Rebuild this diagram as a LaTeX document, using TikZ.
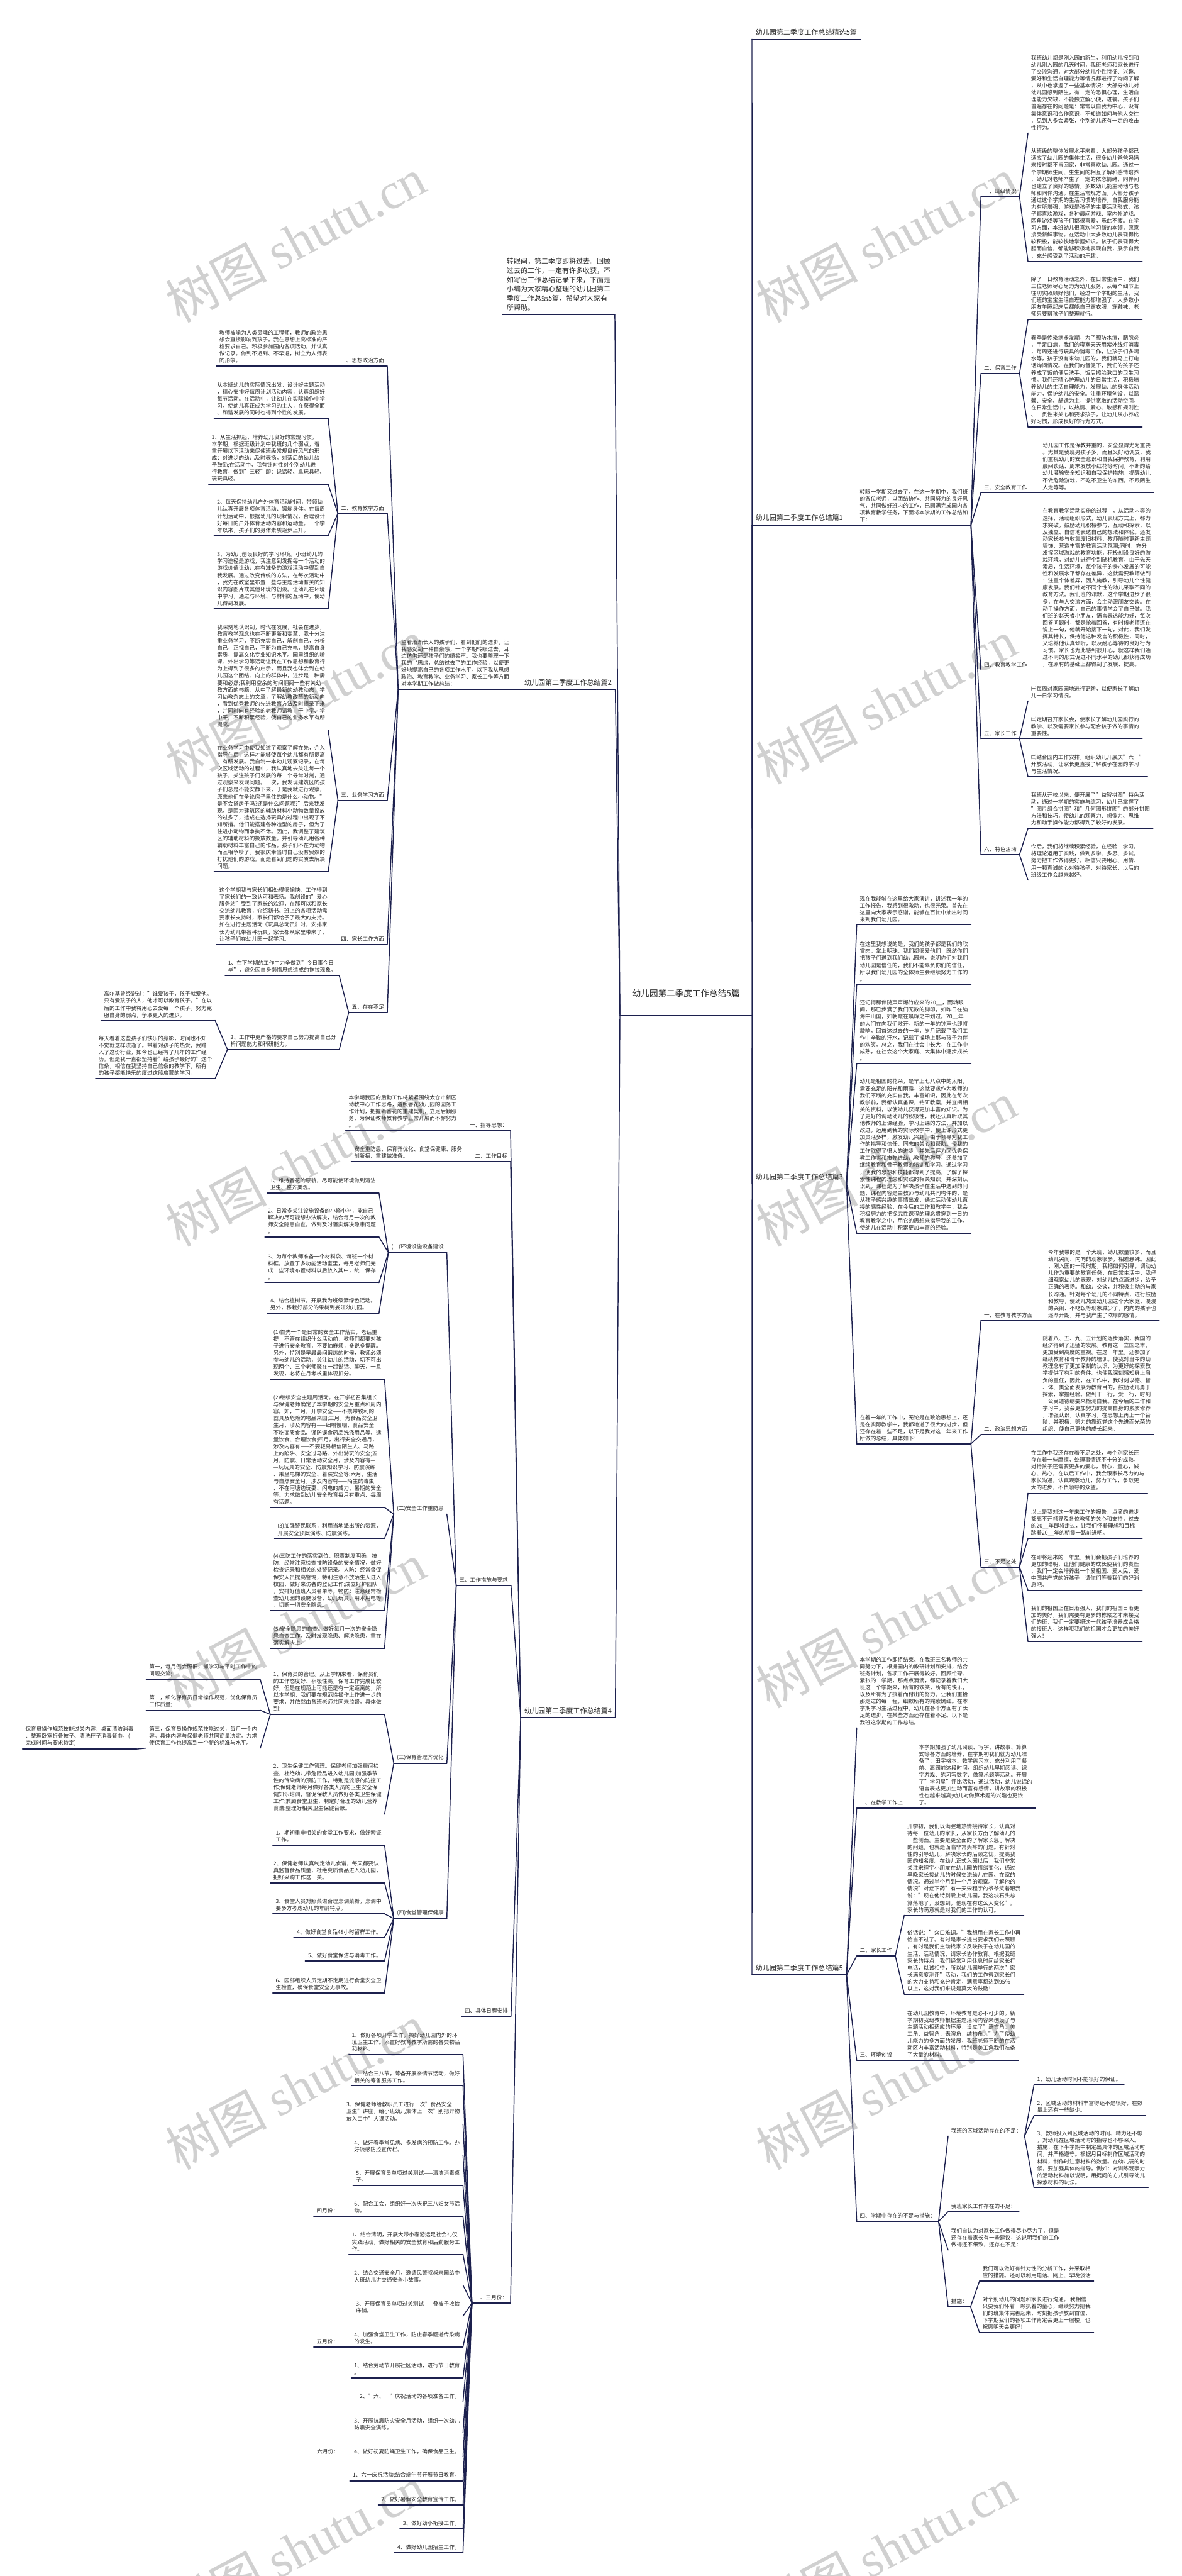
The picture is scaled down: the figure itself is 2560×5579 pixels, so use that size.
\documentclass[tikz,border=0pt]{standalone}
\usepackage{fontspec}
\setmainfont{Noto Sans CJK SC}
\newfontfamily\wmlat{Liberation Serif}
\definecolor{lc}{RGB}{28,32,78}
\definecolor{tc}{RGB}{38,38,38}
\definecolor{wmc}{RGB}{208,208,208}
\newcommand\fBody{\fontsize{11.7pt}{15.1pt}\selectfont}
\newcommand\fTitle{\fontsize{15.1pt}{19pt}\selectfont}
\newcommand\fIntro{\fontsize{15pt}{20pt}\selectfont}
\newcommand\fRoot{\fontsize{18.5pt}{22pt}\selectfont}
\newcommand\fWm{\fontsize{110pt}{120pt}\selectfont}
\newcommand\conR[2]{\foreach \c in {#2}{\draw[lnk] (#1.south east) -- (\c.south west);}}
\newcommand\conL[2]{\foreach \c in {#2}{\draw[lnk] (#1.south west) -- (\c.south east);}}
\tikzset{
 lnk/.style={draw=lc,line width=2pt,line cap=round},
 ul/.style={append after command={(\tikzlastnode.south west) edge[lnk] (\tikzlastnode.south east)}},
 tx/.style={font=\fBody,text=tc,align=left,inner xsep=6.5pt,inner ysep=6pt,ul},
 ttl/.style={font=\fTitle,text=tc,inner xsep=7.5pt,inner ysep=8pt,ul},
 R/.style={anchor=south west},
 L/.style={anchor=south east},
 wm/.style={font=\fWm,text=wmc,rotate=28,inner sep=0pt},
}
\begin{document}
\begin{tikzpicture}[x=1pt,y=-1pt]
\fill[white] (0,0) rectangle (2560,5579);
\useasboundingbox (0,0) rectangle (2560,5579);
% watermarks
\foreach \y in {520,1520,2520,3520,4520,5520}{
 \node[wm] (wmL\y) at (640,\y) {树图 {\wmlat shutu.cn}};
 \node[wm] (wmR\y) at (1920,\y) {树图 {\wmlat shutu.cn}};
}
% root
\node[R,font=\fRoot,text=tc,minimum width=286pt,inner xsep=0pt,inner ysep=4pt,text depth=38pt,ul] (root) at (1343,2200) {幼儿园第二季度工作总结5篇};

% ================= RIGHT =================
\node[R,ttl] (r0) at (1629,85) {幼儿园第二季度工作总结精选5篇};
\node[R,ttl] (r1) at (1629,1137) {幼儿园第二季度工作总结篇1};
\node[R,tx] (r1t) at (1856,1137) {转眼一学期又过去了，在这一学期中，我们班\\的各位老师，以团结协作、共同努力的良好风\\气，共同做好班内的工作，已圆满完成园内各\\项教育教学任务，下面将本学期的工作总结如\\下：};
\node[R,tx] (a1) at (2125,426) {一、班级情况};
\node[R,tx] (a1t1) at (2227,288) {我班幼儿都是刚入园的新生，利用幼儿报到和\\幼儿刚入园的几天时间，我班老师和家长进行\\了交流沟通，对大部分幼儿个性特征、兴趣、\\爱好和生活自理能力等情况都进行了询问了解\\，从中也掌握了一些基本情况：大部分幼儿对\\幼儿园感到陌生，有一定的恐惧心理，生活自\\理能力欠缺，不能独立解小便，进餐。孩子们\\普遍存在的问题是：常常以自我为中心，没有\\集体意识和合作意识，不知道如何与他人交往\\，见到人多会紧张，个别幼儿还有一定的攻击\\性行为。};
\node[R,tx] (a1t2) at (2227,566) {从班级的整体发展水平来看，大部分孩子都已\\适应了幼儿园的集体生活，很多幼儿爸爸妈妈\\来接时都不肯回家，非常喜欢幼儿园。通过一\\个学期师生间、生生间的相互了解和感情培养\\，幼儿对老师产生了一定的依恋情绪，同伴间\\也建立了良好的感情，多数幼儿能主动地与老\\师和同伴沟通。在生活常规方面，大部分孩子\\通过这个学期的生活习惯的培养，自我服务能\\力有所增强，游戏是孩子的主要活动形式，孩\\子都喜欢游戏，各种晨间游戏、室内外游戏、\\区角游戏等孩子们都很喜爱，乐此不疲。在学\\习方面，本班幼儿很喜欢学习新的本领，愿意\\接受新鲜事物。在活动中大多数幼儿表现得比\\较积极，能较快地掌握知识。孩子们表现得大\\胆而自信，都能够积极地表现自我，展示自我\\，充分感受到了活动的乐趣。};
\node[R,tx] (a2) at (2125,809) {二、保育工作};
\node[R,tx] (a2t1) at (2227,692) {除了一日教育活动之外，在日常生活中，我们\\三位老师尽心尽力为幼儿服务，从每个细节上\\往切实照顾好他们，经过一个学期的生活，我\\们班的宝宝生活自理能力都增强了，大多数小\\朋友午睡起床后都能自己穿衣服，穿鞋袜，老\\师只要帮孩子们整理就行。};
\node[R,tx] (a2t2) at (2227,925) {春季是传染病多发期，为了预防水痘，腮腺炎\\，手足口病，我们的寝室天天用紫外线灯消毒\\，每周还进行玩具的消毒工作，让孩子们多喝\\水等，孩子没有来幼儿园的，我们就马上打电\\话询问情况。在我们的督促下，我们的孩子还\\养成了饭前便后洗手、饭后擦脸漱口的卫生习\\惯。我们还精心护理幼儿的日常生活，积极培\\养幼儿的生活自理能力，发展幼儿的身体活动\\能力，保护幼儿的安全。注重环境创设，以温\\馨、安全、舒适为主，提供宽敞的活动空间，\\在日常生活中，以热情、爱心、敏感和规则性\\、一贯性来关心和要求孩子，让幼儿从小养成\\好习惯，形成良好的行为方式。};
\node[R,tx] (a3) at (2125,1067) {三、安全教育工作};
\node[R,tx] (a3t) at (2252,1067) {幼儿园工作是保教并重的，安全显得尤为重要\\。尤其是我班男孩子多，而且又好动调皮，我\\们重视幼儿的安全意识和自我保护教育，利用\\晨间谈话、周末发放小红花等时间，不断的给\\幼儿灌输安全知识和自我保护措施，提醒幼儿\\不做危险游戏，不吃不卫生的东西，不跟陌生\\人走等等。};
\node[R,tx] (a4) at (2125,1451) {四、教育教学工作};
\node[R,tx] (a4t) at (2252,1451) {在教育教学活动实施的过程中，从活动内容的\\选择，活动组织形式，幼儿表现方式上，都力\\求突破，鼓励幼儿积极参与、互动和探索，以\\及独立、自信地表达自己的想法和体验。还发\\动家长参与收集废旧材料，教师随时更新主题\\墙饰，营造丰富的教育活动氛围;同时，充分\\发挥区域游戏的教育功能，积极创设良好的游\\戏环境，对幼儿进行个别随机教育，由于先天\\素质，生活环境，每个孩子的身心发展的可能\\性和发展水平都存在差异，这就需要教师做到\\：注重个体差异，因人施教，引导幼儿个性健\\康发展。我们针对不同个性的幼儿采取不同的\\教育方法。我们班的邓默，这个学期进步了很\\多，在与人交流方面，会主动跟朋友交谈。在\\动手操作方面，自己的事情学会了自己做。我\\们班的赵天睿小朋友，语言表达能力好，每次\\回答问题时，都是抢着回答，有时候老师还在\\说上一句，他就开始接下一句，对此，我们发\\挥其特长，保持他这种发言的积极性，同时，\\又培养他认真倾听，以及耐心等待的良好行为\\习惯。家长也为此感到很开心，就这样我们通\\过不同的形式促进不同水平的幼儿都获得成功\\，在原有的基础上都得到了发展、提高。};
\node[R,tx] (a5) at (2125,1600) {五、家长工作};
\node[R,tx] (a5t1) at (2227,1518) {㈠每周对家园园地进行更新，以便家长了解幼\\儿一日学习情况。};
\node[R,tx] (a5t2) at (2227,1600) {㈡定期召开家长会，使家长了解幼儿园实行的\\教学、以及需要家长参与配合孩子做的事情的\\重要性。};
\node[R,tx] (a5t3) at (2227,1682) {㈢结合园内工作安排，组织幼儿开展庆"六一"\\开放活动，让家长更直接了解孩子在园的学习\\与生活情况。};
\node[R,tx] (a6) at (2125,1851) {六、特色活动};
\node[R,tx] (a6t1) at (2227,1794) {我班从开校以来，便开展了"益智拼图"特色活\\动，通过一学期的实施与练习，幼儿已掌握了\\"图片组合拼图"和"几何图形拼图"的部分拼图\\方法和技巧，使幼儿的观察力、想像力、思维\\力和动手操作能力都得到了较好的发展。};
\node[R,tx] (a6t2) at (2227,1906) {今后，我们将继续积累经验，在经验中学习，\\将理论运用于实践，做到多学、多思、多试，\\努力把工作做得更好。相信只要用心、用情、\\用一颗真诚的心对待孩子、对待家长，以后的\\班级工作会越来越好。};

\node[R,ttl] (r3) at (1629,2564) {幼儿园第二季度工作总结篇3};
\node[R,tx] (b1) at (1856,2003) {现在我能够在这里给大家演讲，讲述我一年的\\工作报告，我感到很激动，也很光荣。首先在\\这里向大家表示感谢，能够在百忙中抽出时间\\来到我们幼儿园。};
\node[R,tx] (b2) at (1856,2132) {在这里我想说的是，我们的孩子都是我们的欣\\赏肉，掌上明珠，我们都很爱他们，既然你们\\把孩子们送到我们幼儿园来，说明你们对我们\\幼儿园是信任的，我们不能辜负你们的信任，\\所以我们幼儿园的全体师生会继续努力工作的\\。};
\node[R,tx] (b3) at (1856,2304) {还记得那伴随声声爆竹应来的20\_\_，而转眼\\间，那已步满了我们无数的脚印，如昨日在脑\\海中山国，如朝霞在晨辉之中划过。20\_\_年\\的大门在向我们敞开。新的一年的钟声也即将\\敲响，回首这过去的一年，岁月记载了我们工\\作中辛勤的汗水，记载了操场上那与孩子为伴\\的欢笑。总之，我们在社会中长大，在工作中\\成熟，在社会这个大家庭、大集体中逐步成长\\。};
\node[R,tx] (b4) at (1856,2671) {幼儿是祖国的花朵，是早上七八点中的太阳，\\需要充足的阳光和雨露，这就要求作为教师的\\我们不断的充实自我，丰富知识，因此在每次\\教学前，我都认真备课，钻研教案，并查阅相\\关的资料，以使幼儿获得更加丰富的知识。为\\了更好的调动幼儿的积极性，我还认真听取其\\他教师的上课经验，学习上课的方法，并加以\\改进，运用到我的实际教学中，使上课形式更\\加灵活多样，激发幼儿兴趣，由于领导对我工\\作的指导和信任，同志的关心和帮助。使我的\\工作取得了很大的进步，并先后评为区优秀保\\教工作者和市先进幼儿教师的称号，还参加了\\继续教育和骨干教师的培训和学习。通过学习\\，使我的思想和技能都得到了提高，了解了探\\索性课程的理念和实践的相关知识，并深刻认\\识到，课程是为了解决孩子在生活中遇到的问\\题，课程内容是由教师与幼儿共同构件的，是\\从孩子感兴趣的事情出发，通过活动使幼儿直\\接的感性经验，在今后的工作和教学中，我会\\积极努力的把探究性课程的理念贯穿到一日的\\教育教学之中，用它的思想来指导我的工作，\\使幼儿在活动中积累更加丰富的经验。};
\node[R,tx] (b5) at (1856,3127) {在着一年的工作中，无论是在政治思想上，还\\是在实际教学中，我都地道了很大的进步，但\\还存在着一些不足，以下是我对这一年来工作\\所做的总结，具体如下：};
\node[R,tx] (c1) at (2125,2860) {一、在教育教学方面};
\node[R,tx] (c1t) at (2264,2860) {今年我带的是一个大班，幼儿数量较多，而且\\幼儿哭闹、内向的观象很多，相差悬殊。因此\\，刚入园的一段时期，我把如何引导，调动幼\\儿作为重要的教育任务，在日常生活中，我仔\\细观察幼儿的表现，对幼儿的点滴进步，给予\\正确的表扬。和幼儿交谈，并积极主动的与家\\长沟通。针对每个幼儿的不同特点，进行鼓励\\和教导，使幼儿热爱幼儿园这个大家庭，漫漫\\的哭闹、不吃饭等现象减少了，内向的孩子也\\逐渐开朗，并与我产生了浓厚的感情。};
\node[R,tx] (c2) at (2125,3107) {二、政治思想方面};
\node[R,tx] (c2t) at (2252,3107) {随着八、五、九、五计划的逐步落实，我国的\\经济得到了迅猛的发展。教育这一立国之本，\\更加受到高度的重视。在这一年里，还参加了\\继续教育和骨干教师的培训。使我对当今的幼\\教理念有了更加深刻的认识，为更好的探索教\\学提供了有利的条件。也使我深刻感知身上肩\\负的重任，因此，在工作中，我时刻以德、智\\、体、美全面发展为教育目的，鼓励幼儿勇于\\探索，掌握经验。做到干一行，爱一行，时刻\\一公民道德纲要来检测自我。在今后的工作和\\学习中，我会更加努力的提高自身的素质修养\\，增强认识，认真学习，在思想上再上一个台\\阶，并积极、努力的靠近党这个先进而光荣的\\组织，使自己更快的成长起来。};
\node[R,tx] (c3) at (2125,3394) {三、不足之处};
\node[R,tx] (c3t1) at (2227,3234) {在工作中我还存在着不足之处，与个别家长还\\存在着一些摩擦，处理事情还不十分的成熟，\\对待孩子还需要更多的爱心，耐心，童心，诚\\心、热心，在以后工作中，我会跟家长尽力的与\\家长沟通，认真观察幼儿，努力工作，争取更\\大的进步，不负领导的众望。};
\node[R,tx] (c3t2) at (2227,3332) {以上是我对这一年来工作的报告，点滴的进步\\都离不开领导及各位教师的关心和支持，过去\\的20\_\_年即将走过，让我们怀着理想和目标\\踏着20\_\_年的朝霞一路前进吧。};
\node[R,tx] (c3t3) at (2227,3444) {在即将迎来的一年里，我们会把孩子们培养的\\更加的聪明，让他们健康的成长使我们的责任\\，我们一定会培养出一个爱祖国、爱人民、爱\\中国共产党的好孩子，请你们等着我们的好消\\息吧。};
\node[R,tx] (c3t4) at (2227,3555) {我们的祖国正在日渐强大，我们的祖国日渐更\\加的美好，我们需要有更多的栋梁之才来接我\\们的班，我们一定要把这一代孩子培养成合格\\的接班人，这样哦我们的祖国才会更加的美好\\强大！};

\node[R,ttl] (r5) at (1629,4277) {幼儿园第二季度工作总结篇5};
\node[R,tx] (d0) at (1856,3742) {本学期的工作即将结束。在我班三名教师的共\\同努力下，根据园内的教研计划和安排，结合\\班务计划，各项工作开展得较好。回顾忙碌、\\紧张的一学期，那点点滴滴，都记录着我们大\\班这一个学期来，所有的欢笑，所有的快乐，\\以及所有为了执着而付出的努力。让我们重拾\\那走过的每一程，细数所有的姹紫嫣红。在本\\学期学习生活过程中，幼儿在各个方面有了长\\足的进步，在某些方面还存在着不足。以下是\\我班这学期的工作总结。};
\node[R,tx] (d1) at (1856,3916) {一、在教学工作上};
\node[R,tx] (d1t) at (1984,3916) {本学期加强了幼儿阅读、写字、讲故事、算算\\式等各方面的培养，在学期初我们就为幼儿准\\备了：田字格本、数学练习本、充分利用了餐\\前、离园前这段时间，组织幼儿早期阅读、识\\字游戏、练习写数字、做算术题等活动。开展\\了"学习星"评比活动，通过活动，幼儿说话的\\语言表达更加生动而富有感情，讲故事的积极\\性也越来越高;幼儿对做算术题的兴趣也更浓\\了。};
\node[R,tx] (d2) at (1856,4236) {二、家长工作};
\node[R,tx] (d2t1) at (1959,4148) {开学初，我们以满腔地热情接待家长，认真对\\待每一位幼儿的家长，从家长方面了解幼儿的\\一些侧面。主要是更全面的了解家长急于解决\\的问题，也就是面临非常头疼的问题。有针对\\性的引导幼儿，解决家长的后顾之忧，提高我\\园的知名度。在幼儿正式入园以后，我们非常\\关注宋程宇小朋友在幼儿园的情绪变化，通过\\早晚家长接幼儿的时候交流幼儿在园、在家的\\情况。通过半个月到一个月的观察。了解他的\\情况"对症下药"有一天宋程宇的爷爷笑着跟我\\说："现在他特别爱上幼儿园，我这块石头总\\算落地了，没想到，他现在有这么大变化"。\\家长的满意就是对我们的工作的认可。};
\node[R,tx] (d2t2) at (1959,4319) {俗话说："众口难调。"我想用在家长工作中再\\恰当不过了。有时是家长提出要求我们去照顾\\，有时是我们主动找家长反映孩子在幼儿园的\\生活、活动情况，请家长协作教育。根据我班\\家长的特点，我们经常利用休息时间给家长打\\电话，以诚相待，所以幼儿园举行的两次"家\\长满意度测评"活动，我们的工作得到家长们\\的大力支持和充分肯定，满意率都达到95\%\\以上，这对我们来说是莫大的鼓励！};
\node[R,tx] (d3) at (1856,4462) {三、环境创设};
\node[R,tx] (d3t) at (1959,4462) {在幼儿园教育中，环境教育是必不可少的。新\\学期初我班教师根据主题活动内容来创设了与\\主题活动相适应的环境，设立了"语言角，美\\工角，益智角，表演角，结构角。"为了使幼\\儿能力的多方面的发展，我班老师不断的在活\\动区内丰富活动材料，特别是美工角我们准备\\了大量的材料。};
\node[R,tx] (d4) at (1856,4811) {四、学期中存在的不足与措施：};
\node[R,tx] (e1) at (2054,4626) {我班的区域活动存在的不足：};
\node[R,tx] (e1a) at (2240,4515) {1、幼儿活动时间不能很好的保证。};
\node[R,tx] (e1b) at (2240,4582) {2、区域活动的材料丰富得还不是很好，在数\\量上还有一些缺少。};
\node[R,tx] (e1c) at (2240,4738) {3、教师投入到区域活动的时间、精力还不够\\，对幼儿在区域活动时的指导也不够深入。\\措施：在下半学期中制定出具体的区域活动时\\间，并严格遵守。根据月目标制作区域活动的\\材料，制作时注意材料的数量。在幼儿玩的时\\候，要加强具体的指导。例如：对训练观察力\\的活动材料加以说明，用提问的方式引导幼儿\\探索材料的玩法。};
\node[R,tx] (e2) at (2054,4790) {我班家长工作存在的不足：};
\node[R,tx] (e3) at (2054,4873) {我们自认为对家长工作做得尽心尽力了，但是\\还存在着家长有一些建议，这说明我们的工作\\做得还不细致，还存在不足：};
\node[R,tx] (e4) at (2054,4996) {措施：};
\node[R,tx] (e4a) at (2122,4940) {我们可以做好有针对性的分析工作，并采取相\\应的措施。还可以利用电话、网上、早晚谈话};
\node[R,tx] (e4b) at (2122,5052) {对个别幼儿的问题和家长进行沟通。 我相信\\只要我们怀着一颗执着的童心，继续努力把我\\们的班集体完善起来，时刻把孩子放到首位，\\下学期我们的各项工作肯定会更上一层楼，也\\祝愿明天会更好！};

% ================= LEFT =================
\node[L,font=\fIntro,text=tc,align=left,inner xsep=9pt,inner ysep=9pt,ul] (l0) at (1332,682) {转眼间，第二季度即将过去。回顾\\过去的工作，一定有许多收获，不\\如写份工作总结记录下来，下面是\\小编为大家精心整理的幼儿园第二\\季度工作总结5篇，希望对大家有\\所帮助。};
\node[L,ttl] (l2) at (1333,1493) {幼儿园第二季度工作总结篇2};
\node[L,tx] (l2t) at (1110,1493) {望着渐渐长大的孩子们，看到他们的进步，让\\我感受到一种自豪感，一个学期转眼过去，耳\\边仿佛还是孩子们的嬉笑声。我也要整理一下\\我的{\char"60}思绪，总结过去了的工作经验，以便更\\好地提高自己的各项工作水平。以下我从思想\\政治、教育教学、业务学习、家长工作等方面\\对本学期工作做总结：};
\node[L,tx] (f1) at (839,793) {一、思想政治方面};
\node[L,tx] (f1t) at (716,793) {教师被喻为人类灵魂的工程师，教师的政治思\\想会直接影响到孩子。我在思想上高标准的严\\格要求自己。积极参加园内各项活动，并认真\\做记录。做到不迟到、不早退，树立为人师表\\的形象。};
\node[L,tx] (f2) at (839,1112) {二、教育教学方面};
\node[L,tx] (f2t1) at (711,906) {从本班幼儿的实际情况出发，设计好主题活动\\，精心安排好每周计划活动内容，认真组织好\\每节活动。在活动中，让幼儿在实际操作中学\\习，使幼儿真正成为学习的主人，在获得全面\\、和谐发展的同时也得到个性的发展。};
\node[L,tx] (f2t2) at (711,1049) {1、从生活抓起，培养幼儿良好的常规习惯。\\本学期，根据班级计划中我班的几个弱点，着\\重开展以下活动来促使班级常规良好风气的形\\成：对进步的幼儿及时表扬，对落后的幼儿给\\予鼓励;在活动中，我有针对性对个别幼儿进\\行教育，做到"三轻"即：说话轻、拿玩具轻、\\玩玩具轻。};
\node[L,tx] (f2t3) at (711,1160) {2、每天保持幼儿户外体育活动时间，带领幼\\儿认真开展各项体育活动、锻炼身体。在每周\\计划活动中，根据幼儿的现状情况，合理设计\\好每日的户外体育活动内容和运动量。一个学\\年以来，孩子们的身体素质逐步上升。};
\node[L,tx] (f2t4) at (711,1318) {3、为幼儿创设良好的学习环境。小班幼儿的\\学习途径是游戏，我注意到发掘每一个活动的\\游戏价值让幼儿在有准备的游戏活动中得到自\\我发展。通过改变传统的方法，在每次活动中\\，我先在教室里布置一些与主题活动有关的知\\识内容图片或其他环境的创设。让幼儿在环境\\中学习，通过与环境、与材料的互动中，使幼\\儿得到发展。};
\node[L,tx] (f3) at (839,1733) {三、业务学习方面};
\node[L,tx] (f3t1) at (711,1581) {我深刻地认识到，时代在发展，社会在进步，\\教育教学观念也在不断更新和变革，我十分注\\重业务学习，不断充实自己，解剖自己，分析\\自己，正视自己，不断为自己充电，提高自身\\素质，提高文化专业知识水平。园里组织的听\\课、外出学习等活动让我在工作思想和教育行\\为上得到了很多的启示，而且我也体会到在幼\\儿园这个团结、向上的群体中，进步是一种需\\要和必然;我利用空余的时间翻阅一些有关幼\\教方面的书籍，从中了解最新的幼教动态，学\\习幼教杂志上的文章，了解幼教改革的新动向\\，看到优秀教师的先进教育方法及时摘录下来\\，并同时向有经验的老教师请教，干中学、学\\中干，不断积累经验，使自己的业务水平有所\\提高。};
\node[L,tx] (f3t2) at (711,1888) {在业务学习中使我知道了观察了解在先，介入\\指导在后，这样才能够使每个幼儿都有所提高\\、有所发展。我自制一本幼儿观察记录，在每\\次区域活动的过程中，我认真地去关注每一个\\孩子，关注孩子们发展的每一个寻常时刻，通\\过观察来发现问题。一次，我发现建筑区的孩\\子们总是不能安静下来，于是我就进行观察，\\原来他们在争论房子里住的是什么小动物。"\\是不会搭房子吗?还是什么问题呢?"后来我发\\现，是因为建筑区的辅助材料小动物数量投放\\的过多了，造成在选择玩具的过程中出现了不\\知所措。他们能搭建各种造型的房子，但为了\\住进小动物而争执不休。因此，我调整了建筑\\区的辅助材料的投放数量。并引导幼儿用各种\\辅助材料丰富自己的作品。孩子们不在为动物\\而互相争吵了。我很庆幸当时自己没有贸然的\\打扰他们的游戏。而是看到问题的实质去解决\\问题。};
\node[L,tx] (f4) at (839,2045) {四、家长工作方面};
\node[L,tx] (f4t) at (716,2045) {这个学期我与家长们相处得很愉快，工作得到\\了家长们的一致认可和表扬。我创设的"爱心\\服务站"受到了家长的欢迎，在那可以和家长\\交流幼儿教育，介绍新书。班上的各项活动需\\要家长支持时，家长们都给予了最大的支持。\\如在进行主题活动《玩具总动员》时，安排家\\长为幼儿带各种玩具，家长都从家里带来了，\\让孩子们在幼儿园一起学习。};
\node[L,tx] (f5) at (839,2193) {五、存在不足};
\node[L,tx] (f5t1) at (735,2113) {1、在下学期的工作中力争做到"今日事今日\\毕"，避免因自身懒惰思想造成的拖拉现象。};
\node[L,tx] (f5t2) at (735,2273) {2、工作中更严格的要求自己努力提高自己分\\析问题能力和科研能力。};
\node[L,tx] (g1) at (466,2210) {高尔基曾经说过："谁爱孩子，孩子就爱他。\\只有爱孩子的人，他才可以教育孩子。"在以\\后的工作中我将用心去爱每一个孩子。努力克\\服自身的弱点，争取更大的进步。};
\node[L,tx] (g2) at (466,2336) {每天看着这些孩子们快乐的身影，时间也不知\\不觉就这样流逝了。带着对孩子的热爱，我踏\\入了这份行业，如今也已经有了几年的工作经\\历。但是我一直都坚持着"给孩子最好的"这个\\信条，相信在我坚持自己信条的教学下，所有\\的孩子都能快乐的度过这段启蒙的学习。};

\node[L,ttl] (l4) at (1333,3720) {幼儿园第二季度工作总结篇4};
\node[L,tx] (h1) at (1106,2449) {一、指导思想：};
\node[L,tx] (h1t) at (996,2449) {本学期我园的后勤工作将紧紧围绕太仓市新区\\幼教中心工作思路，遵照香花幼儿园的园务工\\作计划，把握新香花的重建契机，立足后勤服\\务，为保证教师教育教学正常开展而不懈努力\\。};
\node[L,tx] (h2) at (1106,2516) {二、工作目标};
\node[L,tx] (h2t) at (1008,2516) {安全重防患、保育齐优化、食堂保健康、服务\\创新招、重建做准备。};
\node[L,tx] (h3) at (1107,3434) {三、工作措施与要求};
\node[L,tx] (i1) at (968,2713) {(一)环境设施设备建设};
\node[L,tx] (i1a) at (821,2584) {1、维持香花的原貌，尽可能使环境做到清洁\\卫生、整齐美观。};
\node[L,tx] (i1b) at (821,2679) {2、日常多关注设施设备的小修小补，能自己\\解决的尽可能想办法解决，结合每月一次的教\\师安全隐患自查，做到及时落实解决隐患问题\\。};
\node[L,tx] (i1c) at (821,2778) {3、为每个教师准备一个材料袋、每班一个材\\料框，放置于多功能活动室里，每月老师们完\\成一些环境布置材料以后放入其中，统一保存\\。};
\node[L,tx] (i1d) at (821,2844) {4、结合植树节，开展我为班级添绿色活动。\\另外，移栽好部分的果树到娄江幼儿园。};
\node[L,tx] (i2) at (968,3279) {(二)安全工作重防患};
\node[L,tx] (i2a) at (833,2987) {(1)首先一个是日常的安全工作落实，老话重\\提，不管在组织什么活动前，教师们都要对孩\\子进行安全教育，不要怕麻烦，多说多提醒。\\另外，特别是早晨晨间锻炼的时候，教师必须\\参与幼儿的活动，关注幼儿的活动，切不可出\\现两个、三个老师聚在一起说话、聊天，一旦\\发现，必将在月考核里体现扣分。};
\node[L,tx] (i2b) at (833,3265) {(2)继续安全主题周活动。在开学初召集组长\\与保健老师确定了本学期的安全月重点和周内\\容。如，二月，开学安全——不携带锐利的\\器具及危险的物品来园;三月，为食品安全卫\\生月，涉及内容有——细嚼慢咽、食品安全\\不吃变质食品、谨防误食药品洗涤用品等、适\\量饮食、合理饮食;四月，出行安全交通月，\\涉及内容有——不要轻易相信陌生人、马路\\上的陷阱、安全过马路、外出游玩的安全;五\\月，防震、日常活动安全月，涉及内容有—\\—玩玩具的安全、防震知识学习、防震演练\\、乘坐电梯的安全、着装安全等;六月，生活\\与自然安全月，涉及内容有——陌生的毒虫\\、不在河塘边玩耍、闪电的威力、暑期的安全\\等。力求做到幼儿安全教育每月有重点、每周\\有话题。};
\node[L,tx] (i2c) at (833,3332) {(3)加强警民联系，利用当地派出所的资源，\\开展安全预案演练、防震演练。};
\node[L,tx] (i2d) at (833,3488) {(4)三防工作的落实到位，职责制度明确。技\\防：经常注意检查技防设备的安全情况，做好\\检查记录和相关的处警记录。人防：经常督促\\保安人员提高警惕，特别注意不放陌生人进入\\校园，做好来访者的登记工作;成立好护园队\\，安排好值班人员名单等。物防：注意经常检\\查幼儿园的设施设备，幼儿玩具，用水用电等\\，切断一切安全隐患。};
\node[L,tx] (i2e) at (833,3570) {(5)安全隐患的自查。做好每月一次的安全隐\\患自查工作，及时发现隐患、解决隐患，重在\\落实解决上。};
\node[L,tx] (i3) at (968,3819) {(三)保育管理齐优化};
\node[L,tx] (i3a) at (833,3713) {1、保育员的管理。从上学期来看，保育员们\\的工作态度好、积极性高，保育工作完成比较\\好，但是在规范上可能还是有一定距离的，所\\以本学期，我们要在规范性操作上作进一步的\\要求，并依然由各班老师共同来监督。具体做\\到：};
\node[L,tx] (j1) at (564,3638) {第一，每月例会照旧，抓学习与平时工作中的\\问题交流;};
\node[L,tx] (j2) at (564,3704) {第二，细化保育员日常操作规范，优化保育员\\工作质量;};
\node[L,tx] (j3) at (564,3786) {第三，保育员操作规范技能过关，每月一个内\\容。具体内容与保健老师共同商量决定。力求\\使保育工作也提高到一个新的标准与水平。};
\node[L,tx] (k1) at (296,3788) {保育员操作规范技能过关内容：桌面清洁消毒\\、整理卧室折叠被子、清洗杯子消毒餐巾。(\\完成时间与要求待定)};
\node[L,tx] (i3b) at (833,3929) {2、卫生保健工作管理。保健老师加强晨间检\\查，杜绝幼儿带危险品进入幼儿园;加强季节\\性的传染病的预防工作，特别是流感的防控工\\作;保健老师每月做好各类人员的卫生安全保\\健知识培训，督促保教人员做好各类卫生保健\\工作;兼顾食堂卫生，制定好合理的幼儿营养\\食谱;整理好相关卫生保健台账。};
\node[L,tx] (i4) at (968,4155) {(四)食堂管理保健康};
\node[L,tx] (i4a) at (833,3996) {1、期初重申相关的食堂工作要求，做好索证\\工作。};
\node[L,tx] (i4b) at (833,4078) {2、保健老师认真制定幼儿食谱，每天都要认\\真监督食品质量，杜绝变质食品进入幼儿园，\\把好采购工作这一关。};
\node[L,tx] (i4c) at (833,4145) {3、食堂人员对照菜谱合理烹调菜肴，烹调中\\要多方考虑幼儿的年龄特点。};
\node[L,tx] (i4d) at (833,4196) {4、做好食堂食品48小时留样工作。};
\node[L,tx] (i4e) at (833,4247) {5、做好食堂保洁与消毒工作。};
\node[L,tx] (i4f) at (833,4316) {6、园部组织人员定期不定期进行食堂安全卫\\生检查，确保食堂安全无事故。};
\node[L,tx] (h4) at (1107,4367) {四、具体日程安排};
\node[L,tx] (m0) at (1106,4988) {二、三月份：};
\node[L,tx] (n1) at (1003,4450) {1、做好各项开学工作，搞好幼儿园内外的环\\境卫生工作。添置好教育教学所需的各类物品\\和材料。};
\node[L,tx] (n2) at (1003,4517) {2、结合三八节，筹备开展亲情节活动，做好\\相关的筹备服务工作。};
\node[L,tx] (n3) at (1003,4600) {3、保健老师给教职员工进行一次"食品安全\\卫生"讲座，给小班幼儿集体上一次"别把异物\\放入口中"大课活动。};
\node[L,tx] (n4) at (1003,4667) {4、做好春季常见病、多发病的预防工作。办\\好流感防控宣传栏。};
\node[L,tx] (n5) at (1003,4733) {5、开展保育员单项过关测试——清洁消毒桌\\子。};
\node[L,tx] (n6) at (1003,4800) {6、配合工会，组织好一次庆祝三八妇女节活\\动。};
\node[L,tx] (n7) at (1003,4882) {1、结合清明，开展大带小春游远足社会礼仪\\实践活动，做好相关的安全教育和后勤服务工\\作。};
\node[L,tx] (n8) at (1003,4949) {2、结合交通安全月，邀请民警叔叔来园给中\\大班幼儿讲交通安全小故事。};
\node[L,tx] (n9) at (1003,5016) {3、开展保育员单项过关测试——叠被子收拾\\床铺。};
\node[L,tx] (n10) at (1003,5083) {4、加强食堂卫生工作，防止春季肠道传染病\\的发生。};
\node[L,tx] (n11) at (1003,5150) {1、结合劳动节开展社区活动，进行节日教育\\。};
\node[L,tx] (n12) at (1003,5202) {2、"六、一"庆祝活动的各项准备工作。};
\node[L,tx] (n13) at (1003,5269) {3、开展抗震防灾安全月活动，组织一次幼儿\\防震安全演练。};
\node[L,tx] (n14) at (1003,5321) {4、做好初夏防蝇卫生工作，确保食品卫生。};
\node[L,tx] (n15) at (1003,5373) {1、六一庆祝活动;结合端午节开展节日教育。};
\node[L,tx] (n16) at (1003,5425) {2、做好暑假安全教育宣传工作。};
\node[L,tx] (n17) at (1003,5477) {3、做好幼小衔接工作。};
\node[L,tx] (n18) at (1003,5528) {4、做好幼儿园招生工作。};
\node[L,tx,text width=68pt] (m4) at (n6.south west) {四月份：};
\node[L,tx,text width=68pt] (m5) at (n10.south west) {五月份：};
\node[L,tx,text width=67pt] (m6) at (n14.south west) {六月份：};

% ================= CONNECTORS =================
\conR{root}{r0,r1,r3,r5}
\conR{r1}{r1t}
\conR{r1t}{a1,a2,a3,a4,a5,a6}
\conR{a1}{a1t1,a1t2}
\conR{a2}{a2t1,a2t2}
\conR{a3}{a3t}
\conR{a4}{a4t}
\conR{a5}{a5t1,a5t2,a5t3}
\conR{a6}{a6t1,a6t2}
\conR{r3}{b1,b2,b3,b4,b5}
\conR{b5}{c1,c2,c3}
\conR{c1}{c1t}
\conR{c2}{c2t}
\conR{c3}{c3t1,c3t2,c3t3,c3t4}
\conR{r5}{d0,d1,d2,d3,d4}
\conR{d1}{d1t}
\conR{d2}{d2t1,d2t2}
\conR{d3}{d3t}
\conR{d4}{e1,e2,e3,e4}
\conR{e1}{e1a,e1b,e1c}
\conR{e4}{e4a,e4b}
\conL{root}{l0,l2,l4}
\conL{l2}{l2t}
\conL{l2t}{f1,f2,f3,f4,f5}
\conL{f1}{f1t}
\conL{f2}{f2t1,f2t2,f2t3,f2t4}
\conL{f3}{f3t1,f3t2}
\conL{f4}{f4t}
\conL{f5}{f5t1,f5t2}
\conL{f5t2}{g1,g2}
\conL{l4}{h1,h2,h3,h4,m0}
\conL{h1}{h1t}
\conL{h2}{h2t}
\conL{h3}{i1,i2,i3,i4}
\conL{i1}{i1a,i1b,i1c,i1d}
\conL{i2}{i2a,i2b,i2c,i2d,i2e}
\conL{i3}{i3a,i3b}
\conL{i3a}{j1,j2,j3}
\conL{j3}{k1}
\conL{i4}{i4a,i4b,i4c,i4d,i4e,i4f}
\conL{m0}{n1,n2,n3,n4,n5,n6,n7,n8,n9,n10,n11,n12,n13,n14,n15,n16,n17,n18}
\end{tikzpicture}
\end{document}
